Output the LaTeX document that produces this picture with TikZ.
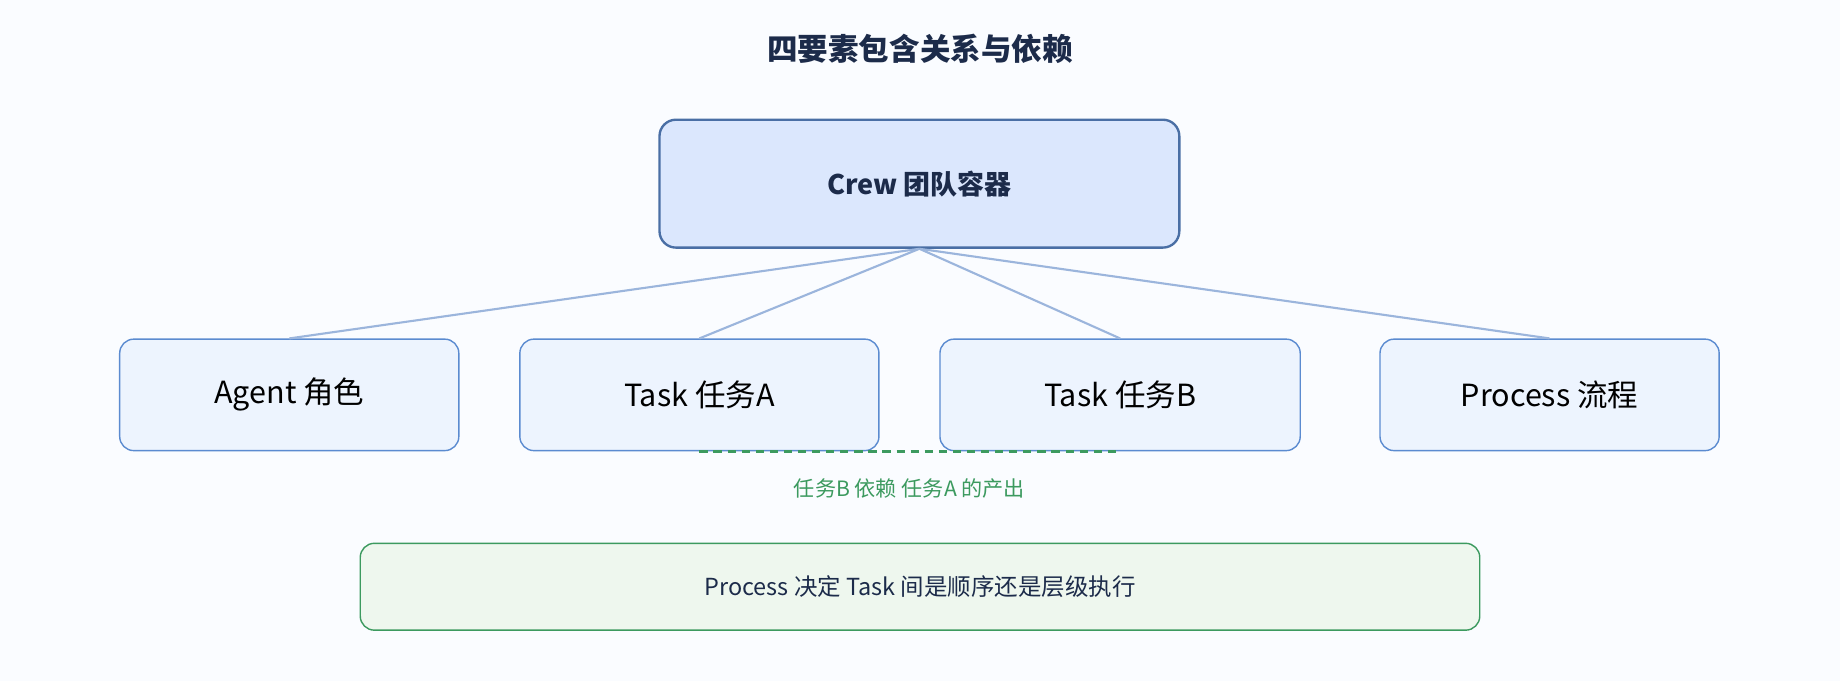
\documentclass[tikz,border=0pt]{standalone}
\usepackage{fontspec}
\setmainfont{Noto Sans CJK SC}
\begin{document}
\begin{tikzpicture}[x=1pt,y=-1pt,
  box/.style={draw=boxb,fill=boxf,rounded corners=12pt,line width=1.2pt,font=\fontsize{26}{30}\selectfont,text=black},
  link/.style={draw=linkc,line width=1.8pt}]
\definecolor{bg}{HTML}{FAFCFF}
\definecolor{boxb}{HTML}{5B8BD0}
\definecolor{boxf}{HTML}{EDF4FE}
\definecolor{crewb}{HTML}{4A6FA5}
\definecolor{crewf}{HTML}{DBE7FD}
\definecolor{navy}{HTML}{1C2B4A}
\definecolor{linkc}{HTML}{9BB5DC}
\definecolor{grn}{HTML}{3C9A5F}
\definecolor{grnf}{HTML}{EEF7EE}
\fill[bg] (0,0) rectangle (1568,580);
\useasboundingbox (0,0) rectangle (1568,580);
\node[font=\bfseries\fontsize{26}{30}\selectfont,text=navy] (title) at (784,42) {四要素包含关系与依赖};
\node[draw=crewb,fill=crewf,rounded corners=14pt,line width=2pt,minimum width=443pt,minimum height=109pt,font=\bfseries\fontsize{23}{28}\selectfont,text=navy] (crew) at (783.5,156.5) {Crew 团队容器};
\node[box,minimum width=289pt,minimum height=95pt] (agent) at (246.5,336.5) {Agent 角色};
\node[box,minimum width=306pt,minimum height=95pt] (ta) at (596,336.5) {Task 任务A};
\node[box,minimum width=307pt,minimum height=95pt] (tb) at (954.5,336.5) {Task 任务B};
\node[box,minimum width=289pt,minimum height=95pt] (proc) at (1320.5,336.5) {Process 流程};
\begin{scope}[on background layer/.style={}]
\end{scope}
\coordinate (c) at (crew.south);
\draw[link] (c) -- (agent.north);
\draw[link] (c) -- (ta.north);
\draw[link] (c) -- (tb.north);
\draw[link] (c) -- (proc.north);
\draw[grn,line width=2.2pt,dash pattern=on 7pt off 5pt] (ta.south) -- (tb.south);
\node[text=grn,font=\fontsize{18}{22}\selectfont] (dep) at (775,416) {任务B 依赖 任务A 的产出};
\node[draw=grn,fill=grnf,rounded corners=12pt,line width=1.2pt,minimum width=954pt,minimum height=74pt,font=\fontsize{20}{24}\selectfont,text=navy] (note) at (784,500) {Process 决定 Task 间是顺序还是层级执行};
\end{tikzpicture}
\end{document}
